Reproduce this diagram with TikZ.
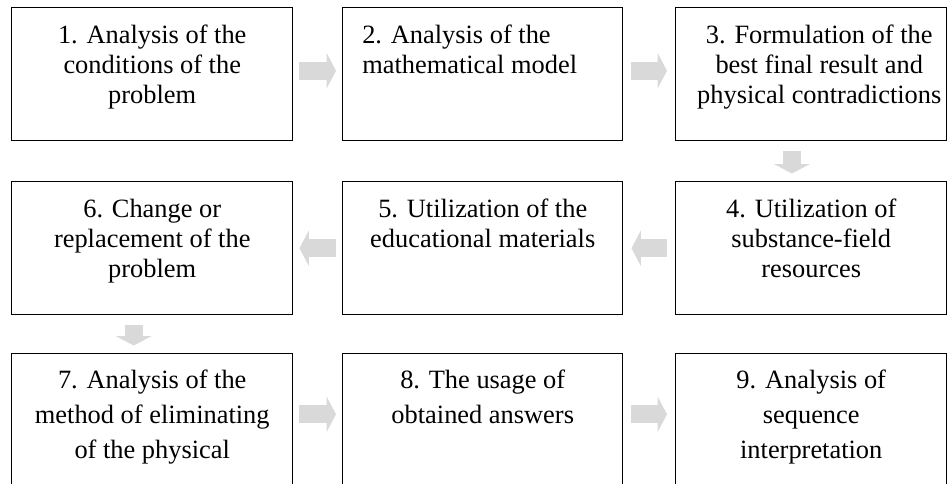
\documentclass[tikz,border=0pt]{standalone}
\usepackage{fontspec}
\setmainfont{Liberation Serif}
\usetikzlibrary{arrows.meta}
\definecolor{flowgray}{RGB}{217,217,217}

\begin{document}
\begin{tikzpicture}[x=0.75pt,y=-0.75pt,
  box/.style={draw=black, line width=1.1pt, rectangle, inner sep=0pt,
              minimum height=99.75pt, anchor=north west},
  colA/.style={minimum width=210.75pt},
  colB/.style={minimum width=210pt},
  colC/.style={minimum width=203.25pt},
  lastrow/.style={minimum height=102pt},
  boxtext/.style={inner sep=0pt, anchor=north, align=center,
                  font=\fontsize{19.8pt}{22.5pt}\selectfont},
  boxtextwide/.style={boxtext, font=\fontsize{19.8pt}{26.25pt}\selectfont},
  flow/.style={draw=flowgray, line width=13.5pt,
               -{Triangle[length=7pt,width=26.25pt]}},
  gapA/.style={shorten <=4.5pt, shorten >=4.5pt},
  gapB/.style={shorten <=6pt, shorten >=6pt},
  gapV/.style={shorten <=7.5pt, shorten >=5.6pt}
]
\useasboundingbox (0,0) rectangle (949,484);
\clip (0,0) rectangle (949,484);
\def\fs{\rule{0pt}{15pt}}

% boxes
\node[box,colA] (b1) at (11,7) {};
\node[box,colB] (b2) at (342,7) {};
\node[box,colC] (b3) at (675,7) {};
\node[box,colA] (b6) at (11,181) {};
\node[box,colB] (b5) at (342,181) {};
\node[box,colC] (b4) at (675,181) {};
\node[box,colA,lastrow] (b7) at (11,353) {};
\node[box,colB,lastrow] (b8) at (342,353) {};
\node[box,colC,lastrow] (b9) at (675,353) {};

% texts
\node[boxtext] (t1) at ([yshift=-12pt]b1.north) {\fs 1. Analysis of the\\conditions of the\\problem};
\node[boxtext, anchor=north west, align=left] (t2) at ([xshift=15pt,yshift=-12pt]b2.north west) {\fs 2. Analysis of the\\mathematical model};
\node[boxtext] (t3) at ([xshift=6pt,yshift=-12pt]b3.north) {\fs 3. Formulation of the\\best final result and\\physical contradictions};
\node[boxtext] (t4) at ([yshift=-12pt]b4.north) {\fs 4. Utilization of\\substance-field\\resources};
\node[boxtext] (t5) at ([yshift=-12pt]b5.north) {\fs 5. Utilization of the\\educational materials};
\node[boxtext] (t6) at ([yshift=-12pt]b6.north) {\fs 6. Change or\\replacement of the\\problem};
\node[boxtextwide] (t7) at ([yshift=-11.25pt]b7.north) {\fs 7. Analysis of the\\method of eliminating\\of the physical\\[8.5pt]contradictions};
\node[boxtextwide] (t8) at ([yshift=-11.25pt]b8.north) {\fs 8. The usage of\\obtained answers};
\node[boxtextwide] (t9) at ([yshift=-11.25pt]b9.north) {\fs 9. Analysis of\\sequence\\interpretation};

% flow arrows
\draw[flow,gapA] ([yshift=2.6pt]b1.east) -- ([yshift=2.6pt]b2.west);
\draw[flow,gapB] ([yshift=2.6pt]b2.east) -- ([yshift=2.6pt]b3.west);
\draw[flow,gapV] ([xshift=-14.5pt]b3.south) -- ([xshift=-14.5pt]b4.north);
\draw[flow,gapB] (b4.west) -- (b5.east);
\draw[flow,gapA] (b5.west) -- (b6.east);
\draw[flow,gapV] ([xshift=-13.9pt]b6.south) -- ([xshift=-13.9pt]b7.north);
\draw[flow,gapA] ([yshift=5.6pt]b7.east) -- ([yshift=5.6pt]b8.west);
\draw[flow,gapB] ([yshift=5.6pt]b8.east) -- ([yshift=5.6pt]b9.west);
\end{tikzpicture}
\end{document}
